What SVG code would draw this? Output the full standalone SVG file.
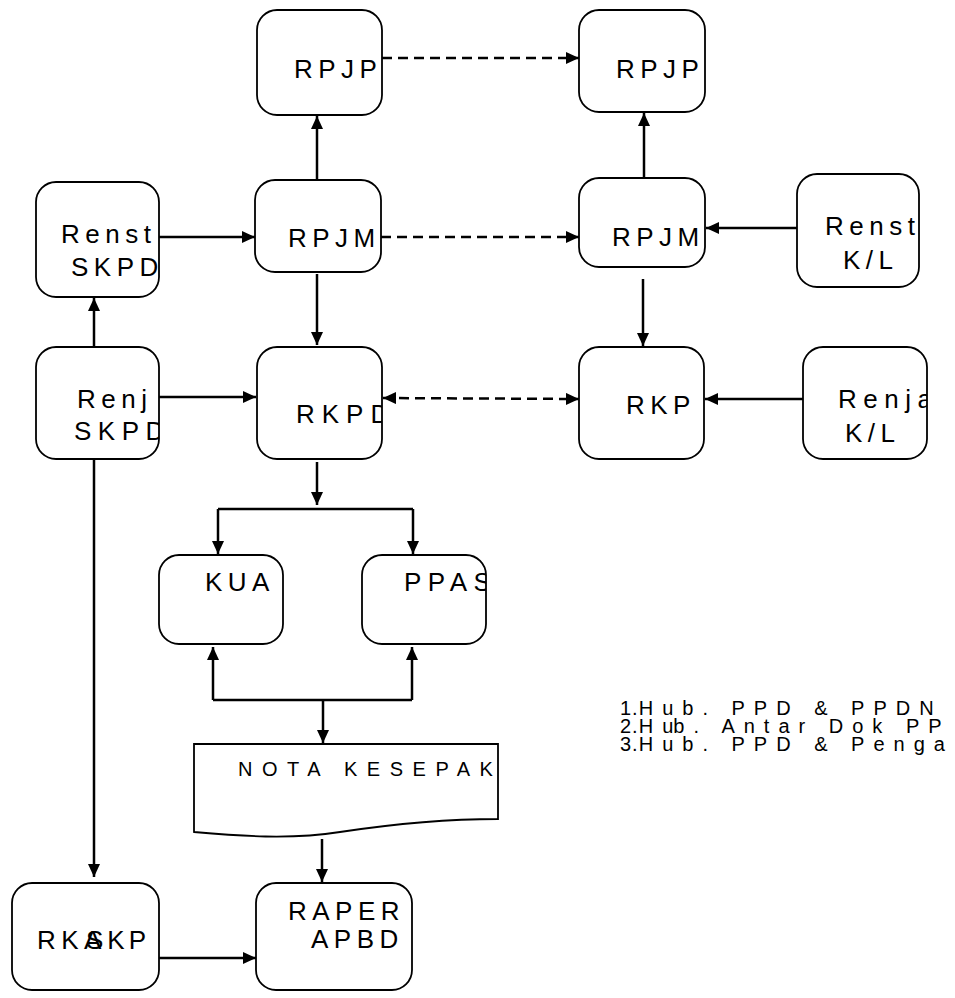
<svg xmlns="http://www.w3.org/2000/svg" width="955" height="998" viewBox="0 0 955 998">
<style>
.box{fill:#fff;stroke:#000;stroke-width:1.8}
.t{font-family:"Liberation Sans",Arial,sans-serif;font-size:26px;fill:#000;letter-spacing:5.5px}
.lg{font-family:"Liberation Sans",Arial,sans-serif;font-size:20px;fill:#000;letter-spacing:9px}
.c{fill:none;stroke:#000;stroke-width:2.5}
.a{marker-end:url(#ah)}
.d{stroke-dasharray:10 6}
</style>
<defs>
<marker id="ah" viewBox="0 0 13 12" refX="13" refY="6" markerWidth="13" markerHeight="12" markerUnits="userSpaceOnUse" orient="auto-start-reverse"><path d="M0,0 L13,6 L0,12 z" fill="#000"/></marker>
<clipPath id="cRenstS"><rect x="36" y="182" width="123" height="115"/></clipPath>
<clipPath id="cRenstK"><rect x="797" y="174" width="122" height="113"/></clipPath>
<clipPath id="cRenjaS"><rect x="36" y="347" width="123" height="112"/></clipPath>
<clipPath id="cRKPD"><rect x="257" y="347" width="125" height="112"/></clipPath>
<clipPath id="cRenjaK"><rect x="803" y="347" width="124" height="112"/></clipPath>
<clipPath id="cPPAS"><rect x="362" y="555" width="124" height="89"/></clipPath>
<clipPath id="cNota"><rect x="194" y="744" width="304" height="95"/></clipPath>
<clipPath id="cRKA"><rect x="12" y="883" width="143" height="107"/></clipPath>
</defs>

<g id="connectors">
<line class="c d a" x1="382" y1="58" x2="579" y2="58"/>
<line class="c a" x1="317" y1="180" x2="317" y2="116"/>
<line class="c a" x1="159" y1="237" x2="255" y2="237"/>
<line class="c d a" x1="381" y1="237" x2="579" y2="237"/>
<line class="c a" x1="797" y1="228" x2="706" y2="228"/>
<line class="c a" x1="644" y1="178" x2="644" y2="113"/>
<line class="c a" x1="317" y1="274" x2="317" y2="345"/>
<line class="c a" x1="643" y1="279" x2="643" y2="346"/>
<line class="c a" x1="94" y1="347" x2="94" y2="298"/>
<line class="c a" x1="159" y1="397" x2="256" y2="397"/>
<line class="c d a" x1="383" y1="398" x2="579" y2="399" style="marker-start:url(#ah)"/>
<line class="c a" x1="803" y1="399" x2="705" y2="399"/>
<line class="c a" x1="317" y1="462" x2="317" y2="505"/>
<line class="c" x1="218" y1="509" x2="413" y2="509"/>
<line class="c a" x1="218" y1="509" x2="218" y2="554"/>
<line class="c a" x1="413" y1="509" x2="413" y2="554"/>
<line class="c a" x1="94" y1="459" x2="94" y2="877"/>
<line class="c" x1="213" y1="700" x2="412" y2="700"/>
<line class="c a" x1="213" y1="700" x2="213" y2="647"/>
<line class="c a" x1="412" y1="700" x2="412" y2="647"/>
<line class="c a" x1="323" y1="700" x2="323" y2="743"/>
<line class="c a" x1="322" y1="839" x2="322" y2="882"/>
<line class="c a" x1="159" y1="958" x2="256" y2="958"/>
</g>

<g id="rpjp-l"><rect class="box" x="257" y="10" width="125" height="105" rx="20"/><text class="t" x="294" y="78">RPJP</text></g>
<g id="rpjp-r"><rect class="box" x="579" y="10" width="126" height="102" rx="20"/><text class="t" x="616" y="78">RPJP</text></g>
<g id="renstra-skpd"><rect class="box" x="36" y="182" width="123" height="115" rx="20"/><g clip-path="url(#cRenstS)"><text class="t" x="61" y="243">Renst</text><text class="t" x="71" y="276">SKPD</text></g></g>
<g id="rpjm-l"><rect class="box" x="255" y="180" width="126" height="92" rx="20"/><text class="t" x="288" y="247">RPJM</text></g>
<g id="rpjm-r"><rect class="box" x="579" y="178" width="126" height="89" rx="20"/><text class="t" x="612" y="246">RPJM</text></g>
<g id="renstra-kl"><rect class="box" x="797" y="174" width="122" height="113" rx="20"/><g clip-path="url(#cRenstK)"><text class="t" x="825" y="235">Renst</text><text class="t" x="843" y="269">K/L</text></g></g>
<g id="renja-skpd"><rect class="box" x="36" y="347" width="123" height="112" rx="20"/><g clip-path="url(#cRenjaS)"><text class="t" x="77" y="408">Renj</text><text class="t" x="74" y="440" style="letter-spacing:6.5px">SKPD</text></g></g>
<g id="rkpd"><rect class="box" x="257" y="347" width="125" height="112" rx="20"/><text class="t" x="296" y="423" style="letter-spacing:7px" clip-path="url(#cRKPD)">RKPD</text></g>
<g id="rkp"><rect class="box" x="579" y="347" width="125" height="112" rx="20"/><text class="t" x="626" y="414">RKP</text></g>
<g id="renja-kl"><rect class="box" x="803" y="347" width="124" height="112" rx="20"/><g clip-path="url(#cRenjaK)"><text class="t" x="838" y="408" style="letter-spacing:6.5px">Renja</text></g><text class="t" x="845" y="442">K/L</text></g>
<g id="kua"><rect class="box" x="159" y="555" width="124" height="89" rx="20"/><text class="t" x="205" y="591">KUA</text></g>
<g id="ppas"><rect class="box" x="362" y="555" width="124" height="89" rx="20"/><text class="t" x="404" y="591" style="letter-spacing:6.5px" clip-path="url(#cPPAS)">PPAS</text></g>
<g id="nota"><path class="box" d="M194,744 H498 V819 C450,819 400,823 340,832 C290,840 240,836 194,832 Z"/><text class="t" x="238" y="776" style="font-size:20px;letter-spacing:9.5px" clip-path="url(#cNota)">NOTA KESEPAK</text></g>
<g id="rka"><rect class="box" x="12" y="883" width="147" height="107" rx="20"/><g clip-path="url(#cRKA)"><text class="t" x="37" y="949">RKA</text><text class="t" x="86" y="949" style="letter-spacing:4px">SKP</text></g></g>
<g id="raper"><rect class="box" x="256" y="883" width="156" height="107" rx="20"/><text class="t" x="288" y="920">RAPER</text><text class="t" x="311" y="948">APBD</text></g>

<g id="legend">
<text class="lg" x="620" y="715"><tspan style="letter-spacing:1px">1.</tspan>Hub. PPD &amp; PPDN</text>
<text class="lg" x="620" y="733"><tspan style="letter-spacing:1px">2.</tspan>Hu<tspan dx="-9">b</tspan>. Antar Dok PP</text>
<text class="lg" x="620" y="751"><tspan style="letter-spacing:1px">3.</tspan>Hub. PPD &amp; Penga</text>
</g>
</svg>
